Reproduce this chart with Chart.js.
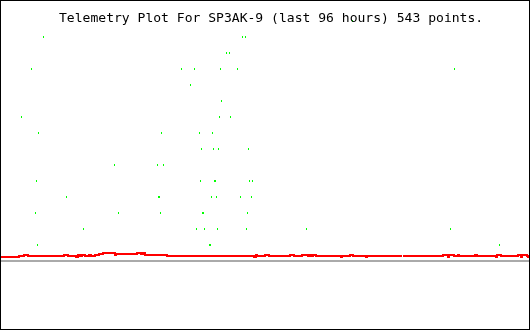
<!DOCTYPE html>
<html>
<head>
<meta charset="utf-8">
<script src="https://cdn.jsdelivr.net/npm/chart.js@4.4.1/dist/chart.umd.min.js"></script>
<style>
  body { margin: 0; background: #fff; }
  #frame { position: absolute; left: 0; top: 0; width: 528px; height: 328px; border: 1px solid #000; background: #fff; }
  #plot { display: block; }
  #title {
    position: absolute; left: 59px; top: 10px;
    font-family: "DejaVu Sans Mono", monospace; font-size: 13.05px; line-height: 15px;
    color: #000; white-space: pre;
  }
</style>
</head>
<body>
<div id="frame"><canvas id="plot" width="528" height="328"></canvas></div>
<div id="title">Telemetry Plot For SP3AK-9 (last 96 hours) 543 points.</div>
<script>
// x = hours into the 96 hour window, y = raw telemetry value (0-255)
const greenHours = [3.73, 5.55, 6.27, 6.45, 6.64, 6.82, 7.73, 11.91, 15.0, 20.64, 21.36, 28.45, 28.64, 28.82,
  29.0, 29.18, 29.55, 32.82, 34.45, 35.18, 35.55, 36.09, 36.27, 36.45, 36.64, 36.82, 37.0, 37.91, 38.09,
  38.27, 38.45, 38.64, 38.82, 39.0, 39.18, 39.36, 39.55, 39.73, 39.91, 40.09, 41.0, 41.55, 41.73, 43.0,
  43.55, 43.91, 44.45, 44.64, 44.82, 45.0, 45.18, 45.55, 45.73, 55.55, 63.91, 81.73, 82.45, 90.64];
const greenValues = [144, 192, 48, 80, 16, 128, 224, 64, 32, 96, 48, 96, 64, 64,
  48, 128, 96, 192, 176, 192, 32, 128, 80, 112, 48, 48, 32, 16, 16,
  64, 128, 112, 80, 80, 64, 32, 112, 144, 192, 160, 208, 208, 144, 192,
  64, 224, 224, 32, 48, 112, 80, 64, 80, 32, 240, 32, 192, 16];

const redHours = [0, 3.27, 4.18, 4.91, 11.45, 12.18, 13.64, 14.0, 14.36, 14.73, 15.27, 16.0, 16.36, 17.09,
  17.82, 18.55, 20.73, 20.91, 24.73, 25.45, 25.82, 26.18, 30.18, 46.0, 46.36, 46.55, 48.0, 48.73,
  52.55, 53.27, 54.73, 55.82, 56.18, 56.36, 56.73, 57.27, 61.82, 62.0, 63.45, 64.0, 66.36, 66.55,
  72.91, 73.0, 73.09, 80.36, 81.27, 81.45, 82.36, 83.09, 83.27, 86.18, 86.55, 90.0, 90.18, 90.91,
  94.0, 94.55, 94.73, 95.64, 95.82, 96];
const redValues = [4, 5, 6, 5, 6, 5, 4, 6, 5, 6, 5, 6, 5, 6,
  7, 8, 6, 7, 8, 7, 8, 6, 5, 4, 6, 5, 6, 5,
  6, 5, 6, 5, 6, 5, 6, 5, 4, 5, 6, 5, 4, 5,
  5, null, 5, 6, 4, 6, 5, 6, 5, 6, 5, 4, 6, 5,
  6, 4, 6, 5, 4, 4];

const zeroHours = [0, 96];
const zeroValues = [0, 0];

const toXY = (xs, ys) => xs.map((x, i) => ({ x: x, y: ys[i] }));

// 1x2 pixel marker like the original plot
const dot = document.createElement('canvas');
dot.width = 1;
dot.height = 2;
const dctx = dot.getContext('2d');
dctx.fillStyle = '#00ff00';
dctx.fillRect(0, 0, 1, 2);

const crisp = {
  id: 'crisp',
  beforeDatasetsDraw(chart) { chart.ctx.imageSmoothingEnabled = false; }
};

new Chart(document.getElementById('plot'), {
  type: 'line',
  data: {
    datasets: [{
      label: 'channel 2',
      data: toXY(greenHours, greenValues),
      showLine: false,
      pointStyle: dot,
      pointRadius: 1,
      order: 0
    }, {
      label: 'channel 1',
      data: toXY(redHours, redValues),
      borderColor: '#ff0000',
      borderWidth: 2,
      stepped: true,
      spanGaps: false,
      pointRadius: 0,
      order: 1
    }, {
      label: 'zero',
      data: toXY(zeroHours, zeroValues),
      borderColor: '#aaaaaa',
      borderWidth: 2,
      pointRadius: 0,
      order: 2
    }]
  },
  options: {
    responsive: false,
    animation: false,
    layout: { padding: 0, autoPadding: false },
    scales: {
      x: { type: 'linear', min: 0, max: 96, display: false },
      y: { type: 'linear', min: -68, max: 260, display: false }
    },
    plugins: {
      legend: { display: false },
      tooltip: { enabled: false }
    }
  },
  plugins: [crisp]
});
</script>
</body>
</html>
